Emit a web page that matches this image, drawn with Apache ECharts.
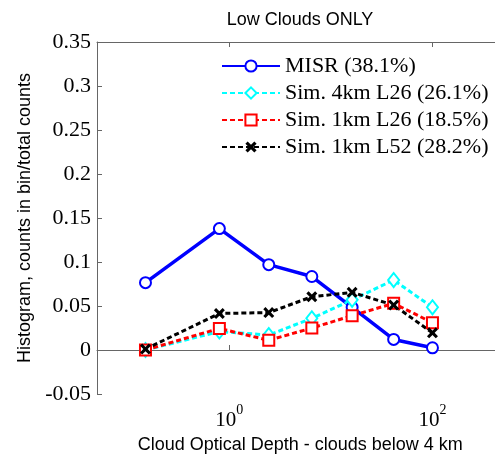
<!DOCTYPE html>
<html>
<head>
<meta charset="utf-8">
<script src="https://cdn.jsdelivr.net/npm/echarts@6/dist/echarts.min.js"></script>
<style>html,body{margin:0;padding:0;background:#fff}#c{width:495px;height:454px}</style>
</head>
<body>
<div id="c"></div>
<script>
// Optical depth bin centres
var tau = [0.15, 0.8, 2.45, 6.5, 16.2, 41.5, 100];
var seriesNames = ['MISR (38.1%)', 'Sim. 4km L26 (26.1%)', 'Sim. 1km L26 (18.5%)', 'Sim. 1km L52 (28.2%)'];
var misr   = [0.0765, 0.138, 0.097, 0.0835, 0.0485, 0.012, 0.0025];
var sim4L26 = [0.000, 0.021, 0.017, 0.036, 0.057, 0.0795, 0.0485];
var sim1L26 = [0.000, 0.0245, 0.011, 0.025, 0.039, 0.053, 0.031];
var sim1L52 = [0.001, 0.0415, 0.0425, 0.0605, 0.0655, 0.051, 0.0195];
var xTickExponents = [0, 2];
var yTicks = { min: -0.05, max: 0.35, interval: 0.05 };
var xRange = { min: 0.05, max: 500 };

function pairs(v) { return tau.map(function (t, i) { return [t, v[i]]; }); }

var chart = echarts.init(document.getElementById('c'));
var serif = '"Liberation Serif", "Times New Roman", serif';
var sans = '"Liberation Sans", Arial, sans-serif';
var axisCol = '#666';
var crossPath = 'path://M2,0 L5,3 L8,0 L10,2 L7,5 L10,8 L8,10 L5,7 L2,10 L0,8 L3,5 L0,2 Z';

function xLabel(v) {
  var l = Math.log10(v);
  var e = Math.round(l);
  if (Math.abs(l - e) > 1e-6 || xTickExponents.indexOf(e) < 0) return '';
  return '{b|10}{s|' + e + '}';
}

chart.setOption({
  animation: false,
  backgroundColor: '#fff',
  graphic: [{
    type: 'text', x: 300, y: 20,
    style: { text: 'Low Clouds ONLY', textAlign: 'center', textVerticalAlign: 'middle', font: '18px ' + sans, fill: '#000' }
  }],
  grid: { left: 97, top: 42, width: 406.5, bottom: 60, containLabel: false, outerBoundsMode: 'none' },
  legend: {
    orient: 'vertical', left: 216, top: 50, itemWidth: 58, itemHeight: 14, itemGap: 5,
    textStyle: { fontFamily: serif, fontSize: 22, color: '#000' },
    data: seriesNames
  },
  xAxis: [{
    type: 'log', logBase: 100, min: xRange.min, max: xRange.max,
    axisLine: { lineStyle: { color: axisCol, width: 1 } },
    axisTick: { inside: true, length: 5, lineStyle: { color: axisCol } },
    minorTick: { show: false },
    splitLine: { show: false },
    axisLabel: {
      formatter: xLabel, margin: 9,
      rich: {
        b: { fontFamily: serif, fontSize: 21, color: '#000', lineHeight: 28, verticalAlign: 'bottom' },
        s: { fontFamily: serif, fontSize: 14, color: '#000', lineHeight: 14, verticalAlign: 'top' }
      }
    },
    name: 'Cloud Optical Depth - clouds below 4 km', nameLocation: 'middle', nameGap: 41,
    nameTextStyle: { fontFamily: sans, fontSize: 18, color: '#000' }
  }, {
    type: 'log', logBase: 100, min: xRange.min, max: xRange.max, position: 'top',
    axisLine: { lineStyle: { color: axisCol, width: 1 } },
    axisTick: { inside: true, length: 5, lineStyle: { color: axisCol } },
    axisLabel: { show: false }, splitLine: { show: false }
  }],
  yAxis: {
    type: 'value', min: yTicks.min, max: yTicks.max, interval: yTicks.interval,
    axisLine: { show: true, lineStyle: { color: axisCol, width: 1 } },
    axisTick: { show: true, inside: true, length: 5, lineStyle: { color: axisCol } },
    splitLine: { show: false },
    axisLabel: { fontFamily: serif, fontSize: 22, color: '#000', margin: 6 },
    name: 'Histogram, counts in bin/total counts', nameLocation: 'middle', nameGap: 62,
    nameTextStyle: { fontFamily: sans, fontSize: 18, color: '#000' }
  },
  series: [{
    name: seriesNames[0], type: 'line', data: pairs(misr),
    symbol: 'emptyCircle', symbolSize: 11,
    lineStyle: { color: '#0000ff', width: 3.5 },
    itemStyle: { color: '#0000ff', borderColor: '#0000ff', borderWidth: 2.5 }
  }, {
    name: seriesNames[1], type: 'line', data: pairs(sim4L26),
    symbol: 'emptyDiamond', symbolSize: [11, 14],
    lineStyle: { color: '#00ffff', width: 3, type: [5, 3] },
    itemStyle: { color: '#00ffff', borderColor: '#00ffff', borderWidth: 3 }
  }, {
    name: seriesNames[2], type: 'line', data: pairs(sim1L26),
    symbol: 'emptyRect', symbolSize: 11,
    lineStyle: { color: '#ff0000', width: 3, type: [5, 3] },
    itemStyle: { color: '#ff0000', borderColor: '#ff0000', borderWidth: 3 }
  }, {
    name: seriesNames[3], type: 'line', data: pairs(sim1L52),
    symbol: crossPath, symbolSize: 11,
    lineStyle: { color: '#000000', width: 3, type: [5, 3] },
    itemStyle: { color: '#000000' }
  }]
});
</script>
</body>
</html>
